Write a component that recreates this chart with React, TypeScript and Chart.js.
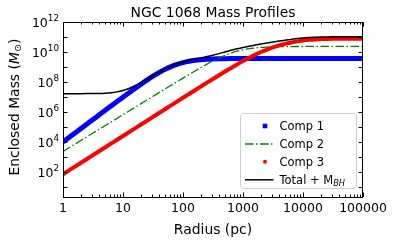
import React, { useEffect, useRef } from 'react';
import { Chart, registerables } from 'chart.js';

Chart.register(...registerables);

// ---------------- data ----------------
const radiusPc = [
  1, 1.259, 1.585, 1.995, 2.512, 3.162, 3.981, 5.012, 6.31, 7.943,
  10, 12.59, 15.85, 19.95, 25.12, 31.62, 39.81, 50.12, 63.1, 79.43,
  100, 125.9, 158.5, 199.5, 251.2, 316.2, 398.1, 501.2, 631, 794.3,
  1000, 1259, 1585, 1995, 2512, 3162, 3981, 5012, 6310, 7943,
  10000, 12589, 15849, 19953, 25119, 31623, 39811, 50119, 63096, 79433,
  100000,
];

const comp1Mass = [
  1.0e4, 2.0e4, 3.98e4, 7.94e4, 1.585e5, 3.16e5, 6.31e5, 1.259e6, 2.48e6, 4.92e6,
  9.7e6, 1.905e7, 3.71e7, 7.11e7, 1.334e8, 2.42e8, 4.22e8, 6.93e8, 1.064e9, 1.51e9,
  1.98e9, 2.43e9, 2.79e9, 3.08e9, 3.29e9, 3.43e9, 3.52e9, 3.59e9, 3.63e9, 3.65e9,
  3.67e9, 3.68e9, 3.69e9, 3.7e9, 3.7e9, 3.7e9, 3.7e9, 3.7e9, 3.7e9, 3.7e9,
  3.7e9, 3.7e9, 3.7e9, 3.7e9, 3.7e9, 3.7e9, 3.7e9, 3.7e9, 3.7e9, 3.7e9,
  3.7e9,
];

const comp2Mass = [
  2.34e3, 4.12e3, 7.24e3, 1.27e4, 2.24e4, 3.94e4, 6.92e4, 1.22e5, 2.14e5, 3.76e5,
  6.61e5, 1.16e6, 2.04e6, 3.59e6, 6.31e6, 1.11e7, 1.95e7, 3.43e7, 5.97e7, 1.045e8,
  1.82e8, 3.16e8, 5.43e8, 9.25e8, 1.545e9, 2.52e9, 3.96e9, 5.96e9, 8.45e9, 1.125e10,
  1.406e10, 1.656e10, 1.862e10, 2.02e10, 2.13e10, 2.2e10, 2.25e10, 2.29e10, 2.31e10, 2.32e10,
  2.33e10, 2.34e10, 2.34e10, 2.34e10, 2.34e10, 2.34e10, 2.34e10, 2.34e10, 2.34e10, 2.34e10,
  2.34e10,
];

const comp3Mass = [
  70.8, 127, 229, 412, 741, 1.33e3, 2.4e3, 4.32e3, 7.76e3, 1.4e4,
  2.51e4, 4.52e4, 8.13e4, 1.46e5, 2.63e5, 4.73e5, 8.51e5, 1.53e6, 2.75e6, 4.9e6,
  8.83e6, 1.585e7, 2.84e7, 5.07e7, 9.04e7, 1.6e8, 2.83e8, 4.97e8, 8.61e8, 1.47e9,
  2.48e9, 4.06e9, 6.47e9, 9.95e9, 1.46e10, 2.05e10, 2.74e10, 3.48e10, 4.22e10, 5.13e10,
  5.89e10, 6.46e10, 6.92e10, 7.24e10, 7.45e10, 7.59e10, 7.67e10, 7.73e10, 7.76e10, 7.76e10,
  7.76e10,
];

const totalMass = [
  1.661e7, 1.662e7, 1.665e7, 1.669e7, 1.678e7, 1.696e7, 1.73e7, 1.799e7, 1.93e7, 2.191e7,
  2.699e7, 3.686e7, 5.582e7, 9.14e7, 1.566e8, 2.702e8, 4.59e8, 7.45e8, 1.143e9, 1.636e9,
  2.188e9, 2.778e9, 3.378e9, 4.07e9, 4.94e9, 6.13e9, 7.78e9, 1.006e10, 1.296e10, 1.637e10,
  2.023e10, 2.432e10, 2.88e10, 3.387e10, 3.964e10, 4.622e10, 5.362e10, 6.14e10, 6.9e10, 7.82e10,
  8.59e10, 9.17e10, 9.63e10, 9.95e10, 1.016e11, 1.03e11, 1.038e11, 1.044e11, 1.047e11, 1.047e11,
  1.047e11,
];

const xMin = 1;
const xMax = 100000;
const yMin = 2.15;
const yMax = 1e12;

const xTickValues = [1, 10, 100, 1000, 10000, 100000];
const xTickLabels = ['1', '10', '100', '1000', '10000', '100000'];
const yLabelExponents = [2, 4, 6, 8, 10, 12];
const yTickExponents = [1, 2, 3, 4, 5, 6, 7, 8, 9, 10, 11, 12];

const chartTitle = 'NGC 1068 Mass Profiles';
const xAxisTitle = 'Radius (pc)';
const yAxisTitleMain = 'Enclosed Mass (';
const yAxisTitleSymbol = 'M';
const yAxisTitleSub = '\u2299';
const legendLabels = ['Comp 1', 'Comp 2', 'Comp 3', 'Total + M'];
const legendSub = 'BH';

// ---------------- styles ----------------
const FF = '"DejaVu Sans", sans-serif';
const BLUE = '#0000ff';
const GREEN = '#008000';
const RED = '#ff0000';
const BLACK = '#000000';
const GREEN_DASH = [8.5, 2.5, 1.5, 2.5];

type Run = { t: string; font: string; dy?: number };

function runsWidth(ctx: CanvasRenderingContext2D, runs: Run[]) {
  let w = 0;
  for (const r of runs) {
    ctx.font = r.font;
    w += ctx.measureText(r.t).width;
  }
  return w;
}

function drawRuns(ctx: CanvasRenderingContext2D, runs: Run[], x: number, y: number) {
  let cx = x;
  for (const r of runs) {
    ctx.font = r.font;
    ctx.fillText(r.t, cx, y + (r.dy || 0));
    cx += ctx.measureText(r.t).width;
  }
}

const decorPlugin = {
  id: 'decor',
  afterDraw(chart: any) {
    const ctx: CanvasRenderingContext2D = chart.ctx;
    const { left, right, top, bottom } = chart.chartArea;
    const xs = chart.scales.x;
    const ys = chart.scales.y;
    ctx.save();
    ctx.fillStyle = BLACK;
    ctx.strokeStyle = BLACK;
    ctx.textAlign = 'left';
    ctx.textBaseline = 'alphabetic';

    // frame
    ctx.lineWidth = 1;
    ctx.setLineDash([]);
    ctx.strokeRect(left + 0.5, top + 0.5, right - left - 1, bottom - top);

    // x ticks
    const majorLen = 4.5;
    const minorLen = 2.5;
    ctx.beginPath();
    for (const v of xTickValues) {
      const px = Math.round(xs.getPixelForValue(v)) + 0.5;
      ctx.moveTo(px, bottom);
      ctx.lineTo(px, bottom - majorLen);
      ctx.moveTo(px, top);
      ctx.lineTo(px, top + majorLen);
    }
    for (let d = 0; d < xTickValues.length - 1; d++) {
      for (let m = 2; m <= 9; m++) {
        const v = xTickValues[d] * m;
        const px = Math.round(xs.getPixelForValue(v)) + 0.5;
        ctx.moveTo(px, bottom);
        ctx.lineTo(px, bottom - minorLen);
        ctx.moveTo(px, top);
        ctx.lineTo(px, top + minorLen);
      }
    }
    // y ticks
    for (const e of yTickExponents) {
      const py = Math.round(ys.getPixelForValue(Math.pow(10, e))) + 0.5;
      ctx.moveTo(left, py);
      ctx.lineTo(left + majorLen, py);
      ctx.moveTo(right, py);
      ctx.lineTo(right - majorLen, py);
    }
    ctx.stroke();

    // x tick labels
    ctx.font = `12.5px ${FF}`;
    ctx.textAlign = 'center';
    xTickValues.forEach((v, i) => {
      const px = xs.getPixelForValue(v);
      ctx.fillText(xTickLabels[i], px, 211.5);
    });

    // y tick labels
    ctx.textAlign = 'left';
    for (const e of yLabelExponents) {
      const py = ys.getPixelForValue(Math.pow(10, e));
      const runs: Run[] = [
        { t: '10', font: `12.5px ${FF}`, dy: 4.8 },
        { t: String(e), font: `8.8px ${FF}`, dy: -0.6 },
      ];
      const w = runsWidth(ctx, runs);
      drawRuns(ctx, runs, left - 4 - w, py);
    }

    // title
    ctx.font = `13.9px ${FF}`;
    ctx.textAlign = 'center';
    ctx.fillText(chartTitle, (left + right) / 2, 16.8);

    // x axis title
    ctx.fillText(xAxisTitle, (left + right) / 2, 233.5);

    // y axis title
    ctx.textAlign = 'left';
    const yRuns: Run[] = [
      { t: yAxisTitleMain, font: `13.9px ${FF}` },
      { t: yAxisTitleSymbol, font: `italic 13.9px ${FF}` },
      { t: yAxisTitleSub, font: `9.7px ${FF}`, dy: 2.6 },
      { t: ')', font: `13.9px ${FF}` },
    ];
    const yw = runsWidth(ctx, yRuns);
    ctx.save();
    ctx.translate(18.5, 107);
    ctx.rotate(-Math.PI / 2);
    drawRuns(ctx, yRuns, -yw / 2, 0);
    ctx.restore();

    // legend
    const bx = 240.5, by = 113.5, bw = 116, bh = 75, rad = 3;
    ctx.beginPath();
    ctx.moveTo(bx + rad, by);
    ctx.lineTo(bx + bw - rad, by);
    ctx.arcTo(bx + bw, by, bx + bw, by + rad, rad);
    ctx.lineTo(bx + bw, by + bh - rad);
    ctx.arcTo(bx + bw, by + bh, bx + bw - rad, by + bh, rad);
    ctx.lineTo(bx + rad, by + bh);
    ctx.arcTo(bx, by + bh, bx, by + bh - rad, rad);
    ctx.lineTo(bx, by + rad);
    ctx.arcTo(bx, by, bx + rad, by, rad);
    ctx.closePath();
    ctx.fillStyle = 'rgba(255,255,255,0.8)';
    ctx.fill();
    ctx.strokeStyle = '#cccccc';
    ctx.lineWidth = 1;
    ctx.stroke();

    const rows = [126, 144, 161.8, 179.8];
    const sx0 = 245, sx1 = 273.5, mx = 265, tx = 279.5;
    // Comp 1 square
    ctx.fillStyle = BLUE;
    ctx.fillRect(mx - 2.3, rows[0] - 2.3, 4.6, 4.6);
    // Comp 2 dash-dot
    ctx.strokeStyle = GREEN;
    ctx.lineWidth = 1.3;
    ctx.setLineDash(GREEN_DASH);
    ctx.beginPath();
    ctx.moveTo(sx0, rows[1]);
    ctx.lineTo(sx1, rows[1]);
    ctx.stroke();
    ctx.setLineDash([]);
    // Comp 3 dot
    ctx.fillStyle = RED;
    ctx.beginPath();
    ctx.arc(mx, rows[2], 2, 0, Math.PI * 2);
    ctx.fill();
    // Total line
    ctx.strokeStyle = BLACK;
    ctx.lineWidth = 1.5;
    ctx.beginPath();
    ctx.moveTo(sx0, rows[3]);
    ctx.lineTo(sx1, rows[3]);
    ctx.stroke();

    ctx.fillStyle = BLACK;
    const lf = `11.5px ${FF}`;
    for (let i = 0; i < 3; i++) {
      ctx.font = lf;
      ctx.fillText(legendLabels[i], tx, rows[i] + 4.2);
    }
    drawRuns(ctx, [
      { t: legendLabels[3], font: lf },
      { t: legendSub, font: `italic 8.2px ${FF}`, dy: 2.4 },
    ], tx, rows[3] + 4.2);

    ctx.restore();
  },
};

export default function App() {
  const canvasRef = useRef<HTMLCanvasElement | null>(null);

  useEffect(() => {
    document.body.style.margin = '0';
    const canvas = canvasRef.current;
    if (!canvas) return;
    const pts = (arr: number[]) => radiusPc.map((r, i) => ({ x: r, y: arr[i] }));
    const chart = new Chart(canvas, {
      type: 'line',
      data: {
        datasets: [
          {
            label: legendLabels[0],
            data: pts(comp1Mass),
            borderColor: BLUE,
            borderWidth: 5,
            pointRadius: 0,
            cubicInterpolationMode: 'monotone',
            order: 3,
          },
          {
            label: legendLabels[1],
            data: pts(comp2Mass),
            borderColor: GREEN,
            borderWidth: 1.3,
            borderDash: GREEN_DASH,
            pointRadius: 0,
            cubicInterpolationMode: 'monotone',
            order: 2,
          },
          {
            label: legendLabels[2],
            data: pts(comp3Mass),
            borderColor: RED,
            borderWidth: 4,
            pointRadius: 0,
            cubicInterpolationMode: 'monotone',
            order: 1,
          },
          {
            label: legendLabels[3] + legendSub,
            data: pts(totalMass),
            borderColor: BLACK,
            borderWidth: 1.5,
            pointRadius: 0,
            cubicInterpolationMode: 'monotone',
            order: 0,
          },
        ],
      },
      options: {
        responsive: false,
        devicePixelRatio: 1,
        animation: false,
        events: [],
        layout: { padding: { left: 63, right: 31, top: 22, bottom: 47 } },
        plugins: {
          legend: { display: false },
          title: { display: false },
          tooltip: { enabled: false },
        },
        scales: {
          x: { type: 'logarithmic', min: xMin, max: xMax, bounds: 'data', display: false },
          y: { type: 'logarithmic', min: yMin, max: yMax, bounds: 'data', display: false },
        },
      } as any,
      plugins: [decorPlugin],
    });
    return () => chart.destroy();
  }, []);

  return (
    <div style={{ width: 394, height: 244 }}>
      <canvas ref={canvasRef} width={394} height={244} style={{ display: 'block' }} />
    </div>
  );
}
